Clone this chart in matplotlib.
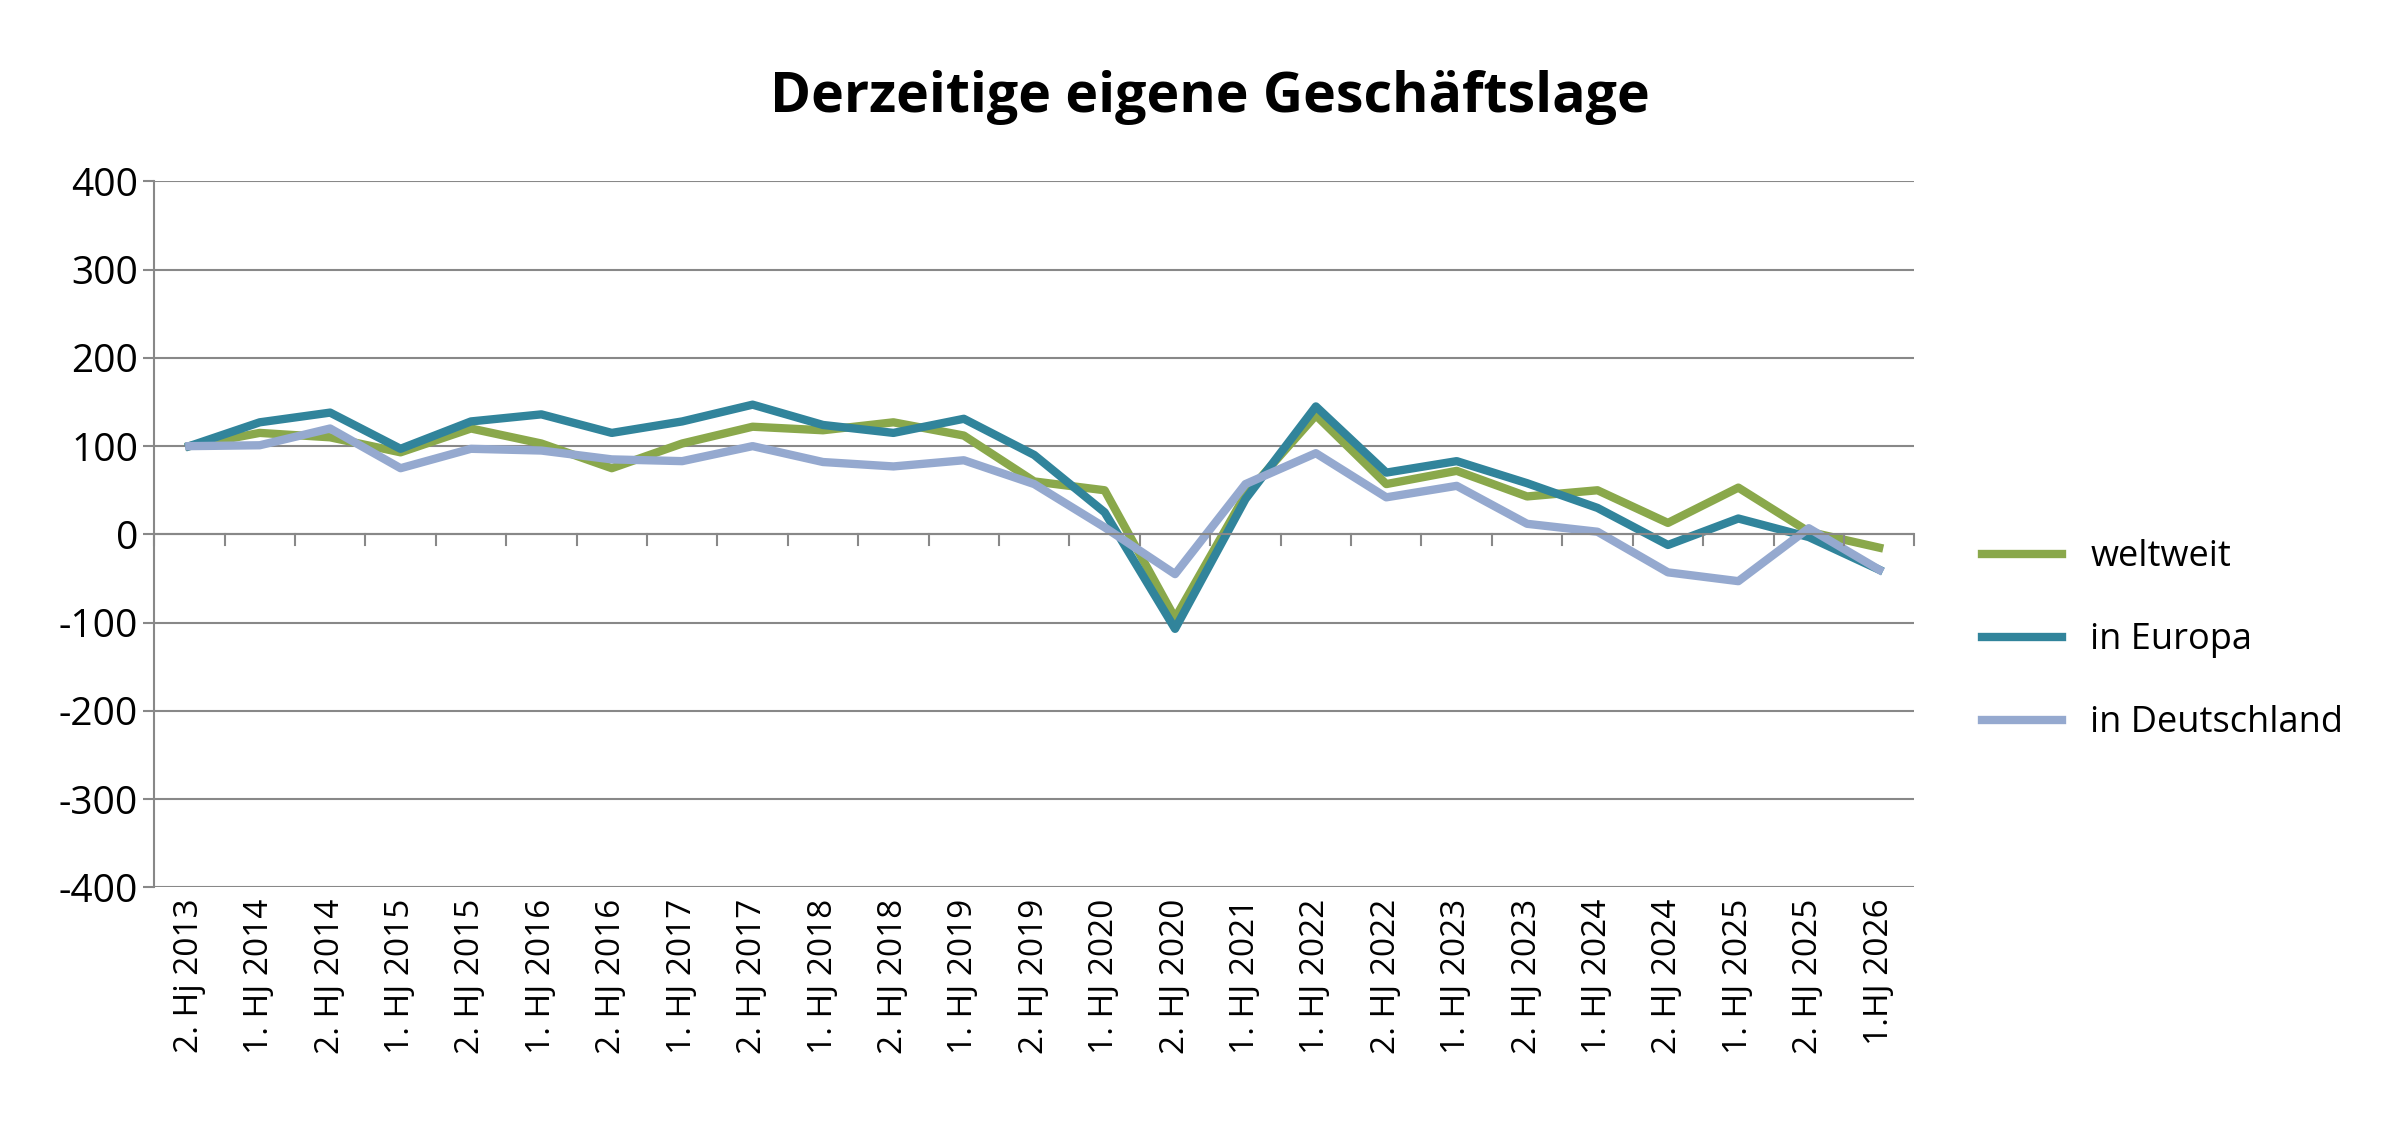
import matplotlib
matplotlib.use('Agg')
import matplotlib.pyplot as plt

labels = ['2. Hj 2013', '1. HJ 2014', '2. HJ 2014', '1. HJ 2015', '2. HJ 2015',
          '1. HJ 2016', '2. HJ 2016', '1. HJ 2017', '2. HJ 2017', '1. HJ 2018',
          '2. HJ 2018', '1. HJ 2019', '2. HJ 2019', '1. HJ 2020', '2. HJ 2020',
          '1. HJ 2021', '1. HJ 2022', '2. HJ 2022', '1. HJ 2023', '2. HJ 2023',
          '1. HJ 2024', '2. HJ 2024', '1. HJ 2025', '2. HJ 2025', '1.HJ 2026']
weltweit = [100, 115, 110, 93, 120, 103, 75, 103, 122, 118, 127, 112, 60, 50, -95,
            45, 135, 57, 72, 43, 50, 13, 53, 3, -15]
europa = [100, 127, 138, 97, 128, 136, 115, 128, 147, 124, 115, 131, 90, 25, -107,
          40, 145, 70, 83, 58, 30, -12, 18, -3, -40]
deutschland = [100, 101, 120, 75, 97, 95, 85, 83, 100, 82, 77, 84, 57, 8, -45,
               57, 92, 42, 55, 12, 3, -43, -53, 7, -40]

plt.rcParams['font.family'] = ['Open Sans', 'DejaVu Sans']
plt.rcParams['axes.unicode_minus'] = False
fig = plt.figure(figsize=(24.08, 11.48), dpi=100)
ax = fig.add_axes([0.064, 0.227, 0.731, 0.615])

x = range(len(labels))
ax.plot(x, weltweit, color='#8AA84B', linewidth=6, label='weltweit')
ax.plot(x, europa, color='#31849B', linewidth=6, label='in Europa')
ax.plot(x, deutschland, color='#95A9CF', linewidth=6, label='in Deutschland')

ax.set_ylim(-400, 400)
ax.set_yticks(range(-400, 401, 100))
ax.set_xlim(-0.5, len(labels) - 0.5)
ax.set_xticks(list(x))
ax.set_xticklabels(labels, rotation=90, fontsize=24)
ax.tick_params(axis='y', labelsize=28, length=8, width=1.5, color='#888888')
ax.tick_params(axis='x', length=0, pad=8)
ax.yaxis.grid(color='#888888', linewidth=1.5)
for s in ['top', 'right', 'bottom']:
    ax.spines[s].set_visible(False)
ax.spines['left'].set_color('#888888')
ax.spines['left'].set_linewidth(1.5)
ax.axhline(0, color='#888888', linewidth=1.5)
for i in range(len(labels) + 1):
    ax.plot([i - 0.5, i - 0.5], [0, -12], color='#888888', linewidth=1.5, clip_on=False)

ax.set_title('Derzeitige eigene Geschäftslage', fontsize=40, fontweight='bold', pad=50, x=0.6)
ax.legend(loc='center left', bbox_to_anchor=(1.02, 0.35), frameon=False, fontsize=26,
          handlelength=2.2, labelspacing=1.3)

fig.savefig('out.png')
